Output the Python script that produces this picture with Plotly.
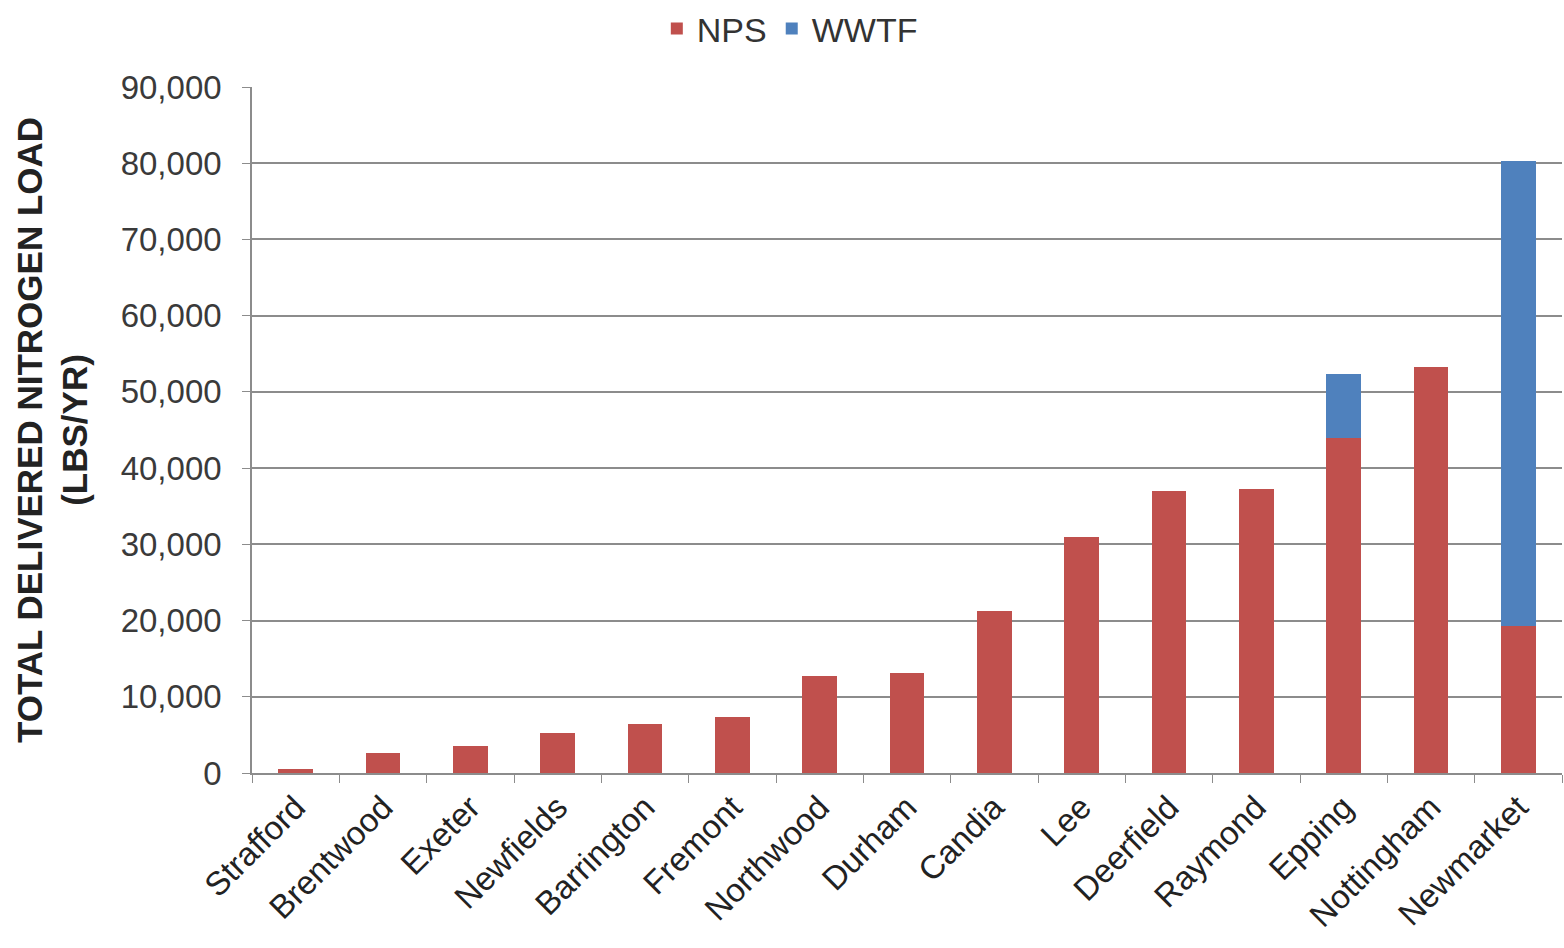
import plotly.graph_objects as go

towns = ["Strafford", "Brentwood", "Exeter", "Newfields", "Barrington", "Fremont",
         "Northwood", "Durham", "Candia", "Lee", "Deerfield", "Raymond",
         "Epping", "Nottingham", "Newmarket"]
nps = [500, 2600, 3500, 5200, 6400, 7300, 12700, 13100, 21300, 30900,
       37000, 37300, 43900, 53300, 19300]
wwtf = [0, 0, 0, 0, 0, 0, 0, 0, 0, 0, 0, 0, 8400, 0, 61000]

font_family = "Liberation Sans, Arial, sans-serif"
axis_gray = "#8c8c8c"

fig = go.Figure()
fig.add_trace(go.Bar(name="NPS", x=towns, y=nps, marker_color="#C0504D",
                     marker_line_width=0))
fig.add_trace(go.Bar(name="WWTF", x=towns, y=wwtf, marker_color="#4F81BD",
                     marker_line_width=0))

fig.update_layout(
    barmode="stack",
    bargap=0.6,
    width=1564, height=948,
    margin=dict(l=252, r=2, t=87, b=175),
    paper_bgcolor="white",
    plot_bgcolor="white",
    font=dict(family=font_family, color="#333333"),
    legend=dict(orientation="h", x=0.505, xanchor="center", xref="container",
                y=1.0, yanchor="top", yref="container",
                font=dict(size=34, color="#333333"),
                itemwidth=30, traceorder="normal"),
    showlegend=True,
)

fig.update_yaxes(
    range=[0, 90000],
    tickvals=[0, 10000, 20000, 30000, 40000, 50000, 60000, 70000, 80000, 90000],
    tickformat=",",
    tickfont=dict(size=33, color="#3a3a3a"),
    showgrid=True, gridcolor=axis_gray, gridwidth=1.6,
    showline=True, linecolor=axis_gray, linewidth=1.6,
    ticks="outside", ticklen=8, tickcolor=axis_gray,
    ticklabelstandoff=14,
    zeroline=False,
    title=dict(text="<b>TOTAL DELIVERED NITROGEN LOAD<br>(LBS/YR)</b>",
               font=dict(size=35, color="#222222"), standoff=22),
)
fig.update_xaxes(
    tickangle=-45,
    tickfont=dict(size=33, color="#222222"),
    showline=True, linecolor=axis_gray, linewidth=1.6,
    ticks="outside", ticklen=8, tickcolor=axis_gray,
    tickson="boundaries",
    showgrid=False,
)

fig.write_html("out.html")
